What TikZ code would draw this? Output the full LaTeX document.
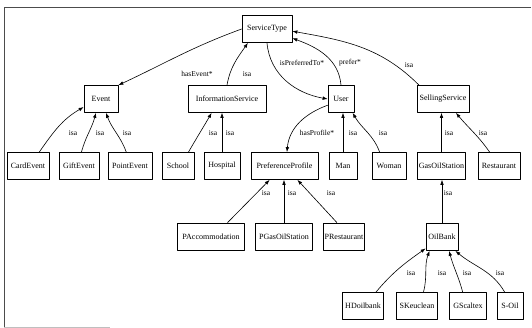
\documentclass[tikz,border=0pt]{standalone}
\usepackage{fontspec}
\setmainfont{Liberation Serif}
\usetikzlibrary{arrows.meta}
\begin{document}
\begin{tikzpicture}[x=1pt,y=-1pt,>={Latex[length=5pt,width=3.6pt]},line join=round,
  box/.style={draw,line width=.7pt,minimum height=27pt,inner sep=1pt,font=\fontsize{8}{9}\selectfont},
  lbl/.style={inner sep=0pt,font=\fontsize{7.5}{8}\selectfont},
  edge/.style={->,line width=.6pt}]
\useasboundingbox (0,0) rectangle (532,328);
\draw[black!70] (4,327) -- (4,7) -- (531,7);
\draw[black!25] (4,327) -- (110,327);
% top two rows
\node[box,minimum width=50pt] (st) at (267,29) {ServiceType};
\node[box,minimum width=34pt] (ev) at (101,99) {Event};
\node[box,minimum width=78pt] (inf) at (227,99) {InformationService};
\node[box,minimum width=26pt] (usr) at (341,99) {User};
\node[box,minimum width=52pt] (ss) at (443,99) {SellingService};
\node[box,minimum width=42pt] (ce) at (28,166) {CardEvent};
\node[box,minimum width=40pt] (ge) at (79,166) {GiftEvent};
\node[box,minimum width=44pt] (pe) at (130,166) {PointEvent};
\node[box,minimum width=32pt] (sch) at (178,166) {School};
\node[box,minimum width=36pt] (hos) at (222,166) {Hospital};
\node[box,minimum width=67pt] (pp) at (284.5,166) {PreferenceProfile};
\node[box,minimum width=28pt] (man) at (343,166) {Man};
\node[box,minimum width=34pt] (wom) at (389,166) {Woman};
\node[box,minimum width=47pt] (gos) at (441.5,166) {GasOilStation};
\node[box,minimum width=42pt] (rest) at (499,166) {Restaurant};
% lower rows
\node[box,minimum width=67pt] (pacc) at (211,236.5) {PAccommodation};
\node[box,minimum width=57pt] (pgos) at (284,236.5) {PGasOilStation};
\node[box,minimum width=41pt] (prest) at (344,236.5) {PRestaurant};
\node[box,minimum width=32pt] (ob) at (442,237) {OilBank};
\node[box,minimum width=41pt] (hd) at (363,306) {HDoilbank};
\node[box,minimum width=41pt] (sk) at (417,306) {SKeuclean};
\node[box,minimum width=37pt] (gs) at (468,306) {GScaltex};
\node[box,minimum width=26pt] (so) at (510,306) {S-Oil};
% connectors
\draw[edge] (st.west) to[out=200,in=25] (ev.north east);
\draw[edge] (inf.north) to[out=80,in=235] (st.216);
\draw[edge] (st.south) to[out=275,in=170] (usr.west);
\draw[edge] (usr.north) to[out=95,in=-20] (st.-20);
\draw[edge] (ss.150) to[out=135,in=-10] (st.-5);
\draw[edge] (usr.205) to[out=200,in=85] (pp.80);
\draw[edge] (man.north) -- (man.north |- usr.south);
\draw[edge] (wom.124) to[out=110,in=-60] (usr.-50);
\draw[edge] (gos.north) -- (gos.north |- ss.south);
\draw[edge] (rest.124) to[out=125,in=-50] (ss.-47);
\draw[edge] (ce.51) to[out=55,in=210] (ev.205);
\draw[edge] (ge.80) to[out=75,in=-105] (ev.-110);
\draw[edge] (pe.105) to[out=110,in=-70] (ev.-70);
\draw[edge] (sch.53) to[out=60,in=240] (inf.222);
\draw[edge] (hos.north) -- (hos.north |- inf.south);
\draw[edge] (pacc.40) -- (pp.223);
\draw[edge] (pgos.north) -- (pgos.north |- pp.south);
\draw[edge] (prest.117) -- (pp.-47);
\draw[edge] (ob.north) -- (ob.north |- gos.south);
\draw[edge] (hd.47) to[out=50,in=215] (ob.215);
\draw[edge] (sk.65) to[out=75,in=250] (ob.228);
\draw[edge] (gs.111) to[out=105,in=-75] (ob.-63);
\draw[edge] (so.111) to[out=120,in=-40] (ob.-46);
% labels
\node[lbl] (lhe) at (197,74) {hasEvent*};
\node[lbl] (lip) at (302,63) {isPreferredTo*};
\node[lbl] (lpr) at (350,63) {prefer*};
\node[lbl] (lhp) at (317,133) {hasProfile*};
\foreach \p [count=\i] in {(247,74),(409,65),(73,133),(100,133),(127,133),(213,133),(230,133),
  (353,133),(383,133),(449,133),(483,133),(266,193),(292,193),(331,193),(448,193),
  (411,273),(442,273),(467,273),(500,273)}
  \node[lbl] (isa\i) at \p {isa};
\end{tikzpicture}
\end{document}
